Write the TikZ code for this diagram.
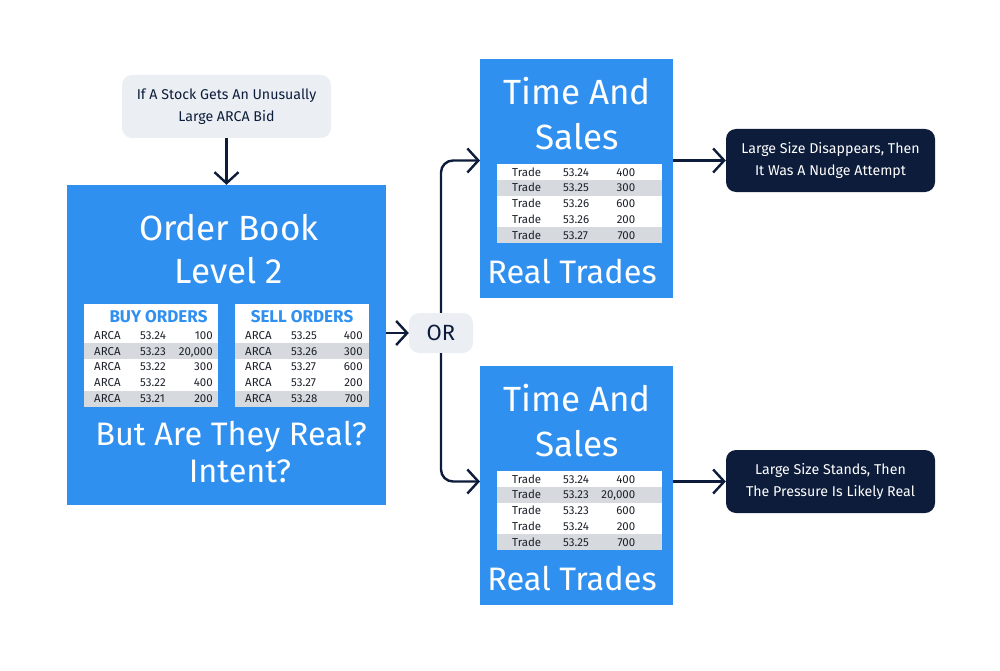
\documentclass[tikz,border=0pt]{standalone}
\usepackage{fontspec}
\setmainfont{Fira Sans}
\usetikzlibrary{arrows.meta}
\definecolor{boxblue}{RGB}{48,144,240}
\definecolor{notegray}{RGB}{235,239,244}
\definecolor{navy}{RGB}{12,28,58}
\definecolor{rowgray}{RGB}{214,217,221}
\definecolor{tabtext}{RGB}{30,34,44}
\newcommand\myfs[2]{\fontsize{#1}{#2}\selectfont}
\begin{document}
\begin{tikzpicture}[x=1pt,y=-1pt,
  arr/.style={draw=navy,line width=2.4pt,-{Straight Barb[length=11pt,width=24pt,line width=2.4pt]}},
  bluebox/.style={fill=boxblue,draw=none,inner sep=0pt},
  notebox/.style={fill=notegray,rounded corners=10pt,draw=none,inner sep=0pt,align=center,text=navy},
  darkbox/.style={fill=navy,rounded corners=10pt,draw=none,inner sep=0pt,align=center,text=white},
  title/.style={text=white,align=center,inner sep=0pt},
  cell/.style={text=tabtext,inner sep=0pt,font=\myfs{11.5}{13}},
  hdr/.style={text=boxblue,inner sep=0pt,font=\bfseries\myfs{17}{18}},
]
\useasboundingbox (0,0) rectangle (1000,671);

% top note
\node[notebox,minimum width=209pt,minimum height=63pt,font=\myfs{14.2}{22}] (note) at (226.5,106.5)
  {If A Stock Gets An Unusually\\Large ARCA Bid};

% order book box
\node[bluebox,minimum width=319pt,minimum height=320pt] (ob) at (226.5,345) {};
\node[title,font=\myfs{35}{42.5}] (obt) at (229,249) {Order Book\\Level 2};
\node[title,font=\myfs{32.5}{36}] (rq1) at (231,437) {But Are They Real?};
\node[title,font=\myfs{32.5}{36}] (rq2) at (240,471.5) {Intent?};

% buy/sell tables
\foreach \tx/\nm in {84/buy,235/sell}{
  \fill[white] (\tx,304) rectangle ++(134,102.5);
  \fill[rowgray] (\tx,343.3) rectangle ++(134,15.8);
  \fill[rowgray] (\tx,390.7) rectangle ++(134,15.8);
}
\node[hdr] (bh) at (158.5,316.5) {BUY ORDERS};
\node[hdr] (sh) at (302,316.5) {SELL ORDERS};
\foreach \i/\p/\s [count=\k] in {0/53.24/100,1/53.23/{20,000},2/53.22/300,3/53.22/400,4/53.21/200}{
  \node[cell,anchor=base west] (ba\k) at (94,{339.2+15.8*\i}) {ARCA};
  \node[cell,anchor=base west] (bp\k) at (140,{339.2+15.8*\i}) {\p};
  \node[cell,anchor=base east] (bs\k) at (213,{339.2+15.8*\i}) {\s};
}
\foreach \i/\p/\s [count=\k] in {0/53.25/400,1/53.26/300,2/53.27/600,3/53.27/200,4/53.28/700}{
  \node[cell,anchor=base west] (sa\k) at (245,{339.2+15.8*\i}) {ARCA};
  \node[cell,anchor=base west] (sp\k) at (291,{339.2+15.8*\i}) {\p};
  \node[cell,anchor=base east] (ss\k) at (363,{339.2+15.8*\i}) {\s};
}

% OR
\node[notebox,minimum width=64pt,minimum height=40pt,font=\myfs{22}{24}] (or) at (441,333) {OR};

% time and sales boxes
\node[bluebox,minimum width=193pt,minimum height=239pt] (ts1) at (576.5,178.5) {};
\node[bluebox,minimum width=193pt,minimum height=239pt] (ts2) at (576.5,485.5) {};
\foreach \dy/\nm in {0/a,307/b}{
  \node[title,font=\myfs{35}{45}] (tt\nm) at (577,{114+\dy}) {Time And\\Sales};
  \node[title,font=\myfs{32.5}{36}] (rt\nm) at (572,{272+\dy}) {Real Trades};
  \fill[white] (497,{164+\dy}) rectangle ++(164.5,79);
  \fill[rowgray] (497,{179.8+\dy}) rectangle ++(164.5,15.8);
  \fill[rowgray] (497,{227.2+\dy}) rectangle ++(164.5,15.8);
}
\foreach \i/\p/\s [count=\k] in {0/53.24/400,1/53.25/300,2/53.26/600,3/53.26/200,4/53.27/700}{
  \node[cell,anchor=base west] (ta\k) at (512,{176+15.8*\i}) {Trade};
  \node[cell,anchor=base west] (tp\k) at (563,{176+15.8*\i}) {\p};
  \node[cell,anchor=base east] (tq\k) at (635.5,{176+15.8*\i}) {\s};
}
\foreach \i/\p/\s [count=\k] in {0/53.24/400,1/53.23/{20,000},2/53.23/600,3/53.24/200,4/53.25/700}{
  \node[cell,anchor=base west] (ua\k) at (512,{483+15.8*\i}) {Trade};
  \node[cell,anchor=base west] (up\k) at (563,{483+15.8*\i}) {\p};
  \node[cell,anchor=base east] (uq\k) at (635.5,{483+15.8*\i}) {\s};
}

% dark result boxes
\node[darkbox,minimum width=209pt,minimum height=63pt,font=\myfs{14.2}{22}] (d1) at (830.5,160.5)
  {Large Size Disappears, Then\\It Was A Nudge Attempt};
\node[darkbox,minimum width=209pt,minimum height=63pt,font=\myfs{14.2}{22}] (d2) at (830.5,481.5)
  {Large Size Stands, Then\\The Pressure Is Likely Real};

% connectors
\coordinate (in1) at (480,160.5);
\coordinate (in2) at (480,481.5);
\draw[arr] (note.south) -- (ob.north);
\draw[arr] (ob.east |- or.west) -- (or.west);
\draw[arr,rounded corners=12pt] (or.north) |- (in1);
\draw[arr,rounded corners=12pt] (or.south) |- (in2);
\draw[arr] (ts1.east |- d1.west) -- (d1.west);
\draw[arr] (ts2.east |- d2.west) -- (d2.west);
\end{tikzpicture}
\end{document}
